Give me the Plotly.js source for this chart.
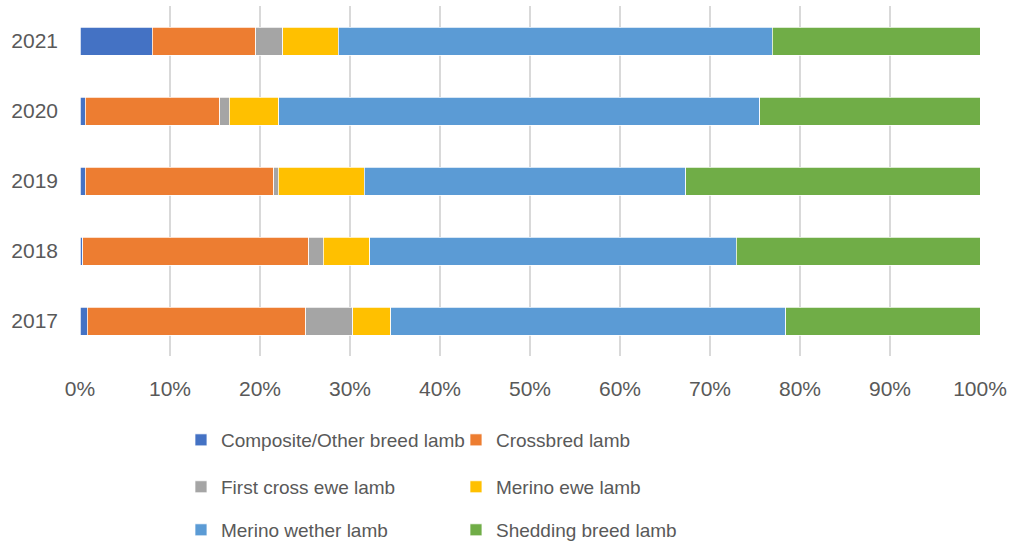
<!DOCTYPE html>
<html>
<head>
<meta charset="utf-8">
<script src="https://cdn.plot.ly/plotly-3.0.1.min.js"></script>
<style>html,body{margin:0;padding:0;background:#fff;}#chart{width:1011px;height:547px;}</style>
</head>
<body>
<div id="chart"></div>
<script>
var years = ['2017', '2018', '2019', '2020', '2021'];
var seriesNames = ['Composite/Other breed lamb', 'Crossbred lamb', 'First cross ewe lamb', 'Merino ewe lamb', 'Merino wether lamb', 'Shedding breed lamb'];
var compositeOther = [0.8, 0.3, 0.6, 0.6, 8.0];
var crossbred = [24.3, 25.1, 20.9, 14.9, 11.5];
var firstCrossEwe = [5.2, 1.6, 0.5, 1.1, 3.0];
var merinoEwe = [4.2, 5.2, 9.6, 5.5, 6.2];
var merinoWether = [43.9, 40.7, 35.7, 53.4, 48.2];
var sheddingBreed = [21.6, 27.1, 32.7, 24.5, 23.1];
var xTickVals = [0, 10, 20, 30, 40, 50, 60, 70, 80, 90, 100];
var xTickText = ['0%', '10%', '20%', '30%', '40%', '50%', '60%', '70%', '80%', '90%', '100%'];

var seriesValues = [compositeOther, crossbred, firstCrossEwe, merinoEwe, merinoWether, sheddingBreed];
var colors = ['#4472C4', '#ED7D31', '#A5A5A5', '#FFC000', '#5B9BD5', '#70AD47'];
var legendIds = ['legend', 'legend', 'legend2', 'legend2', 'legend3', 'legend3'];

var traces = seriesNames.map(function (name, i) {
  return {
    type: 'bar',
    orientation: 'h',
    name: name,
    y: years,
    x: seriesValues[i],
    marker: {color: colors[i], line: {color: '#FFFFFF', width: 0.75}},
    legend: legendIds[i],
    hoverinfo: 'x+name'
  };
});

var fontFam = '"Liberation Sans", Arial, sans-serif';
var legendBase = {
  orientation: 'h',
  entrywidth: 230,
  entrywidthmode: 'pixels',
  x: 0.1122,
  xanchor: 'left',
  yanchor: 'middle',
  font: {family: fontFam, size: 19, color: '#595959'},
  bgcolor: 'rgba(0,0,0,0)',
  traceorder: 'normal'
};
function mkLegend(y) {
  var o = JSON.parse(JSON.stringify(legendBase));
  o.y = y;
  return o;
}

var layout = {
  width: 1011,
  height: 547,
  margin: {l: 80, r: 31, t: 6, b: 191, autoexpand: false},
  paper_bgcolor: '#FFFFFF',
  plot_bgcolor: '#FFFFFF',
  barmode: 'stack',
  bargap: 0.6,
  font: {family: fontFam, size: 19, color: '#595959'},
  showlegend: true,
  legend: mkLegend(-0.24),
  legend2: mkLegend(-0.374),
  legend3: mkLegend(-0.497),
  xaxis: {
    range: [0, 100],
    tickvals: xTickVals,
    ticktext: xTickText,
    showgrid: true,
    gridcolor: '#D9D9D9',
    gridwidth: 1.5,
    zeroline: false,
    showline: false,
    ticks: '',
    ticklabelstandoff: 18,
    tickfont: {family: fontFam, size: 21, color: '#595959'},
    automargin: false,
    fixedrange: true
  },
  yaxis: {
    type: 'category',
    categoryorder: 'array',
    categoryarray: years,
    showgrid: false,
    zeroline: false,
    showline: false,
    ticks: '',
    ticklabelstandoff: 21,
    tickfont: {family: fontFam, size: 21, color: '#595959'},
    automargin: false,
    fixedrange: true
  }
};

Plotly.newPlot('chart', traces, layout, {displayModeBar: false, staticPlot: true});
</script>
</body>
</html>
